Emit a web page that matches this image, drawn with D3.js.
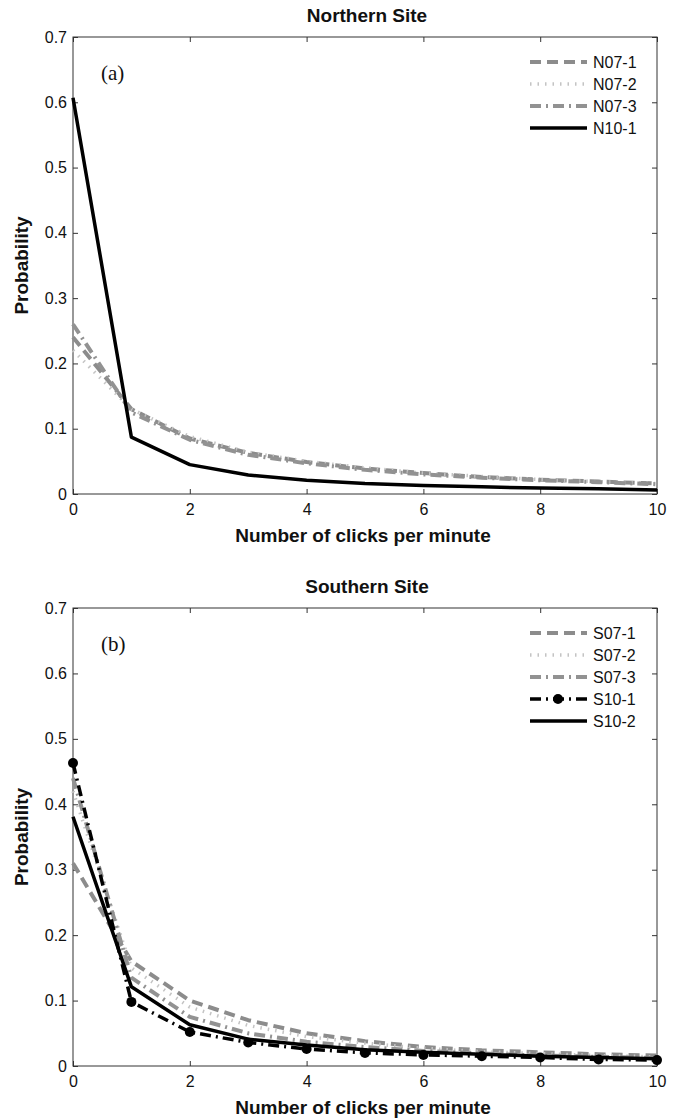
<!DOCTYPE html>
<html>
<head>
<meta charset="utf-8">
<script src="https://cdn.jsdelivr.net/npm/d3@7"></script>
<style>
  body { margin: 0; background: #fff; }
  .tick text { font-family: "Liberation Sans", Arial, sans-serif; font-size: 16px; fill: #111; }
  .title, .axis-label { font-family: "Liberation Sans", Arial, sans-serif; font-weight: bold; fill: #111; }
  .legend-text { font-family: "Liberation Sans", Arial, sans-serif; font-size: 16px; fill: #111; }
  .panel-tag { font-family: "Liberation Serif", "Times New Roman", serif; font-size: 21px; fill: #111; }
</style>
</head>
<body>
<div id="chart"></div>
<script>
// clicks per minute
var clicks = [0, 1, 2, 3, 4, 5, 6, 7, 8, 9, 10];
var yTicks = [0, 0.1, 0.2, 0.3, 0.4, 0.5, 0.6, 0.7];
var xTicks = [0, 2, 4, 6, 8, 10];

// Northern site
var n07_1 = [0.24, 0.13, 0.085, 0.063, 0.049, 0.039, 0.032, 0.026, 0.022, 0.019, 0.016];
var n07_2 = [0.22, 0.13, 0.088, 0.064, 0.050, 0.040, 0.032, 0.027, 0.022, 0.019, 0.016];
var n07_3 = [0.26, 0.125, 0.083, 0.060, 0.047, 0.037, 0.030, 0.025, 0.021, 0.018, 0.015];
var n10_1 = [0.607, 0.087, 0.045, 0.029, 0.021, 0.016, 0.013, 0.011, 0.009, 0.008, 0.006];

// Southern site
var s07_1 = [0.31, 0.16, 0.10, 0.070, 0.050, 0.038, 0.029, 0.024, 0.021, 0.018, 0.016];
var s07_2 = [0.42, 0.15, 0.09, 0.062, 0.045, 0.035, 0.027, 0.022, 0.019, 0.016, 0.014];
var s07_3 = [0.44, 0.135, 0.075, 0.050, 0.037, 0.029, 0.023, 0.019, 0.016, 0.014, 0.012];
var s10_1 = [0.463, 0.098, 0.052, 0.036, 0.026, 0.020, 0.017, 0.015, 0.013, 0.010, 0.009];
var s10_2 = [0.381, 0.121, 0.063, 0.041, 0.032, 0.025, 0.021, 0.018, 0.015, 0.013, 0.011];

var northNames = ["N07-1", "N07-2", "N07-3", "N10-1"];
var southNames = ["S07-1", "S07-2", "S07-3", "S10-1", "S10-2"];

var styles = {
    dash:    {stroke: "#8c8c8c", width: 4,   dash: "11,6",        marker: false},
    dot:     {stroke: "#c4c4c4", width: 3.5, dash: "1.5,6",       marker: false},
    dashdot: {stroke: "#929292", width: 4,   dash: "11,5,2,5",    marker: false},
    blackdd: {stroke: "#000",    width: 3.5, dash: "11,5,2,5",    marker: true},
    solid:   {stroke: "#000",    width: 3.5, dash: null,          marker: false}
};

var W = 678, H = 1120;
var svg = d3.select("#chart").append("svg")
    .attr("width", W)
    .attr("height", H);

function drawPanel(opts) {
    var left = 73, right = 657;
    var x = d3.scaleLinear().domain([0, 10]).range([left, right]);
    var y = d3.scaleLinear().domain([0, 0.7]).range([opts.bottom, opts.top]);
    var g = svg.append("g");

    // box
    g.append("rect")
        .attr("x", left).attr("y", opts.top)
        .attr("width", right - left).attr("height", opts.bottom - opts.top)
        .attr("fill", "none").attr("stroke", "#333").attr("stroke-width", 1);

    var fmtY = d3.format(".1f");
    var bottomAx = g.append("g")
        .attr("transform", "translate(0," + opts.bottom + ")")
        .call(d3.axisBottom(x).tickValues(xTicks).tickSizeInner(-5).tickSizeOuter(0).tickPadding(10).tickFormat(d3.format("d")));
    var leftAx = g.append("g")
        .attr("transform", "translate(" + left + ",0)")
        .call(d3.axisLeft(y).tickValues(yTicks).tickSizeInner(-5).tickSizeOuter(0).tickPadding(6)
            .tickFormat(d => d === 0 ? "0" : fmtY(d)));
    var topAx = g.append("g")
        .attr("transform", "translate(0," + opts.top + ")")
        .call(d3.axisTop(x).tickValues(xTicks).tickSizeInner(-5).tickSizeOuter(0).tickFormat(""));
    var rightAx = g.append("g")
        .attr("transform", "translate(" + right + ",0)")
        .call(d3.axisRight(y).tickValues(yTicks).tickSizeInner(-5).tickSizeOuter(0).tickFormat(""));
    [bottomAx, leftAx, topAx, rightAx].forEach(function(a) {
        a.select(".domain").remove();
        a.selectAll(".tick line").attr("stroke", "#333");
    });

    var line = d3.line()
        .x((d, i) => x(clicks[i]))
        .y(d => y(d));

    opts.series.forEach(function(s) {
        var st = styles[s.style];
        g.append("path")
            .datum(s.values)
            .attr("fill", "none")
            .attr("stroke", st.stroke)
            .attr("stroke-width", st.width)
            .attr("stroke-dasharray", st.dash)
            .attr("stroke-linejoin", "round")
            .attr("d", line);
        if (st.marker) {
            g.selectAll(null)
                .data(s.values)
                .enter().append("circle")
                .attr("cx", (d, i) => x(clicks[i]))
                .attr("cy", d => y(d))
                .attr("r", 5)
                .attr("fill", "#000");
        }
    });

    // legend (no box)
    var leg = g.selectAll(".legend")
        .data(opts.series)
        .enter().append("g")
        .attr("class", "legend")
        .attr("transform", (d, i) => "translate(0," + (opts.top + 25 + i * 22) + ")");
    leg.append("line")
        .attr("x1", 530).attr("x2", 587)
        .attr("y1", 0).attr("y2", 0)
        .attr("stroke", d => styles[d.style].stroke)
        .attr("stroke-width", d => styles[d.style].width)
        .attr("stroke-dasharray", d => styles[d.style].dash);
    leg.filter(d => styles[d.style].marker).append("circle")
        .attr("cx", 558).attr("cy", 0).attr("r", 5).attr("fill", "#000");
    leg.append("text")
        .attr("class", "legend-text")
        .attr("x", 593).attr("y", 0).attr("dy", "0.35em")
        .text(d => d.name);

    // panel tag
    g.append("text")
        .attr("class", "panel-tag")
        .attr("x", 101).attr("y", opts.top + 43)
        .text(opts.tag);

    // title
    g.append("text")
        .attr("class", "title")
        .attr("text-anchor", "middle")
        .attr("x", (left + right) / 2 + 2)
        .attr("y", opts.top - 15)
        .style("font-size", "19px")
        .text(opts.title);

    // x axis label
    g.append("text")
        .attr("class", "axis-label")
        .attr("text-anchor", "middle")
        .attr("x", (left + right) / 2 - 2)
        .attr("y", opts.bottom + 48)
        .style("font-size", "19px")
        .text("Number of clicks per minute");

    // y axis label
    g.append("text")
        .attr("class", "axis-label")
        .attr("text-anchor", "middle")
        .attr("transform", "rotate(-90)")
        .attr("x", -(opts.top + opts.bottom) / 2)
        .attr("y", 28)
        .style("font-size", "19px")
        .text("Probability");
}

drawPanel({
    top: 37, bottom: 494, title: "Northern Site", tag: "(a)",
    series: [
        {name: northNames[0], values: n07_1, style: "dash"},
        {name: northNames[1], values: n07_2, style: "dot"},
        {name: northNames[2], values: n07_3, style: "dashdot"},
        {name: northNames[3], values: n10_1, style: "solid"}
    ]
});

drawPanel({
    top: 608, bottom: 1066, title: "Southern Site", tag: "(b)",
    series: [
        {name: southNames[0], values: s07_1, style: "dash"},
        {name: southNames[1], values: s07_2, style: "dot"},
        {name: southNames[2], values: s07_3, style: "dashdot"},
        {name: southNames[3], values: s10_1, style: "blackdd"},
        {name: southNames[4], values: s10_2, style: "solid"}
    ]
});
</script>
</body>
</html>
